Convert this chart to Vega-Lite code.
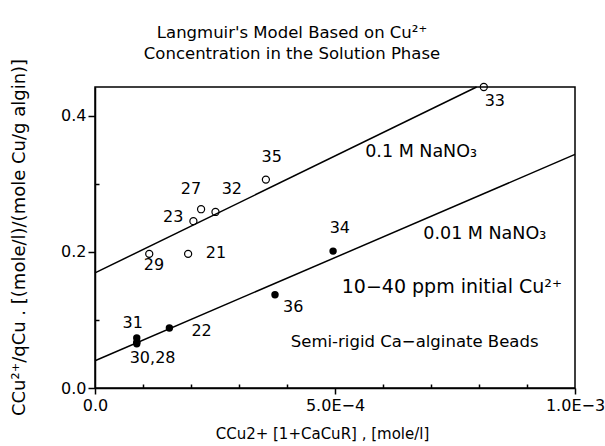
{
  "$schema": "https://vega.github.io/schema/vega-lite/v6.json",
  "width": 480,
  "height": 301,
  "autosize": {"type": "none"},
  "padding": {"left": 95, "top": 87, "right": 30, "bottom": 58},
  "background": "white",
  "config": {
    "view": {"stroke": "black", "strokeWidth": 1.5},
    "font": "DejaVu Sans",
    "text": {"font": "DejaVu Sans", "color": "black"}
  },
  "title": {
    "text": ["Langmuir's Model Based on Cu²⁺", "Concentration in the Solution Phase"],
    "font": "DejaVu Sans",
    "fontSize": 16.5,
    "fontWeight": "normal",
    "color": "black",
    "lineHeight": 21,
    "anchor": "middle",
    "dx": -43,
    "dy": 28,
    "offset": 24
  },
  "datasets": {
    "open": [
      {"run": "29", "x": 0.000113, "y": 0.197},
      {"run": "21", "x": 0.000194, "y": 0.197},
      {"run": "23", "x": 0.000205, "y": 0.245},
      {"run": "27", "x": 0.000221, "y": 0.2625},
      {"run": "32", "x": 0.000251, "y": 0.2585},
      {"run": "35", "x": 0.000356, "y": 0.306},
      {"run": "33", "x": 0.000810, "y": 0.442}
    ],
    "filled": [
      {"run": "31", "x": 0.000087, "y": 0.0735},
      {"run": "30", "x": 0.000087, "y": 0.067},
      {"run": "28", "x": 0.000087, "y": 0.065},
      {"run": "22", "x": 0.000155, "y": 0.088},
      {"run": "36", "x": 0.000375, "y": 0.137},
      {"run": "34", "x": 0.000496, "y": 0.201}
    ],
    "lines": [
      {"series": "0.1 M NaNO3", "x": 0.0, "y": 0.169},
      {"series": "0.1 M NaNO3", "x": 0.000795, "y": 0.442},
      {"series": "0.01 M NaNO3", "x": 0.0, "y": 0.040},
      {"series": "0.01 M NaNO3", "x": 0.001, "y": 0.343}
    ],
    "ptlabels": [
      {"label": "29", "x": 0.000123, "y": 0.180},
      {"label": "21", "x": 0.000252, "y": 0.198},
      {"label": "23", "x": 0.000163, "y": 0.251},
      {"label": "27", "x": 0.000200, "y": 0.292},
      {"label": "32", "x": 0.000285, "y": 0.292},
      {"label": "35", "x": 0.000368, "y": 0.339},
      {"label": "33", "x": 0.000833, "y": 0.421},
      {"label": "34", "x": 0.000510, "y": 0.235},
      {"label": "31", "x": 0.0000785, "y": 0.0955},
      {"label": "30,28", "x": 0.000120, "y": 0.044},
      {"label": "22", "x": 0.000222, "y": 0.084},
      {"label": "36", "x": 0.000413, "y": 0.1185}
    ]
  },
  "layer": [
    {
      "data": {"name": "lines"},
      "mark": {"type": "line", "color": "black", "strokeWidth": 1.5},
      "encoding": {
        "x": {
          "field": "x", "type": "quantitative",
          "scale": {"domain": [0, 0.001], "nice": false, "zero": false},
          "axis": {
            "values": [0, 0.0001, 0.0002, 0.0003, 0.0004, 0.0005, 0.0006, 0.0007, 0.0008, 0.0009, 0.001],
            "labelExpr": "abs(datum.value) < 1e-9 ? '0.0' : abs(datum.value - 0.0005) < 1e-9 ? '5.0E−4' : abs(datum.value - 0.001) < 1e-9 ? '1.0E−3' : ''",
            "title": "CCu2+ [1+CaCuR] , [mole/l]",
            "titleFont": "DejaVu Sans",
            "titleFontSize": 15,
            "titleFontWeight": "normal",
            "titleColor": "black",
            "titleX": 227,
            "titleY": 45,
            "titleBaseline": "middle",
            "labelFont": "DejaVu Sans",
            "labelFontSize": 16,
            "labelColor": "black",
            "labelFlush": false,
            "labelPadding": 3,
            "domainColor": "black",
            "domainWidth": 1.5,
            "tickColor": "black",
            "tickWidth": 1.5,
            "tickSize": {"condition": {"test": "abs(datum.value) < 1e-9 || abs(datum.value - 0.0005) < 1e-9 || abs(datum.value - 0.001) < 1e-9", "value": 6}, "value": -4},
            "grid": false
          }
        },
        "y": {
          "field": "y", "type": "quantitative",
          "scale": {"domain": [0, 0.442], "nice": false, "zero": false},
          "axis": {
            "values": [0, 0.1, 0.2, 0.3, 0.4],
            "labelExpr": "abs(datum.value) < 1e-9 ? '0.0' : abs(datum.value - 0.2) < 1e-9 ? '0.2' : abs(datum.value - 0.4) < 1e-9 ? '0.4' : ''",
            "title": "CCu²⁺/qCu . [(mole/l)/(mole Cu/g algin)]",
            "titleFont": "DejaVu Sans",
            "titleFontSize": 18,
            "titleFontWeight": "normal",
            "titleColor": "black",
            "titleX": -76,
            "titleY": 150,
            "titleBaseline": "middle",
            "titleAngle": -90,
            "labelFont": "DejaVu Sans",
            "labelFontSize": 16,
            "labelColor": "black",
            "labelFlush": false,
            "labelPadding": 2,
            "domainColor": "black",
            "domainWidth": 1.5,
            "tickColor": "black",
            "tickWidth": 1.5,
            "tickSize": {"condition": {"test": "abs(datum.value - 0.1) < 1e-9 || abs(datum.value - 0.3) < 1e-9", "value": -4}, "value": 7},
            "grid": false
          }
        },
        "detail": {"field": "series", "type": "nominal"}
      }
    },
    {
      "data": {"name": "open"},
      "mark": {"type": "point", "shape": "circle", "filled": false, "stroke": "black", "strokeWidth": 1.2, "size": 50, "opacity": 1},
      "encoding": {
        "x": {"field": "x", "type": "quantitative"},
        "y": {"field": "y", "type": "quantitative"}
      }
    },
    {
      "data": {"name": "filled"},
      "mark": {"type": "point", "shape": "circle", "filled": true, "fill": "black", "size": 55, "opacity": 1},
      "encoding": {
        "x": {"field": "x", "type": "quantitative"},
        "y": {"field": "y", "type": "quantitative"}
      }
    },
    {
      "data": {"name": "ptlabels"},
      "mark": {"type": "text", "fontSize": 16, "align": "center", "baseline": "middle", "color": "black"},
      "encoding": {
        "x": {"field": "x", "type": "quantitative"},
        "y": {"field": "y", "type": "quantitative"},
        "text": {"field": "label"}
      }
    },
    {
      "data": {"values": [
        {"text": "0.1 M NaNO₃", "x": 0.000563, "y": 0.347},
        {"text": "0.01 M NaNO₃", "x": 0.000684, "y": 0.226}
      ]},
      "mark": {"type": "text", "fontSize": 17.5, "align": "left", "baseline": "middle", "color": "black"},
      "encoding": {
        "x": {"field": "x", "type": "quantitative"},
        "y": {"field": "y", "type": "quantitative"},
        "text": {"field": "text"}
      }
    },
    {
      "data": {"values": [
        {"text": "10−40 ppm initial Cu²⁺", "x": 0.000514, "y": 0.148}
      ]},
      "mark": {"type": "text", "fontSize": 19, "align": "left", "baseline": "middle", "color": "black"},
      "encoding": {
        "x": {"field": "x", "type": "quantitative"},
        "y": {"field": "y", "type": "quantitative"},
        "text": {"field": "text"}
      }
    },
    {
      "data": {"values": [
        {"text": "Semi-rigid Ca−alginate Beads", "x": 0.000408, "y": 0.067}
      ]},
      "mark": {"type": "text", "fontSize": 16.5, "align": "left", "baseline": "middle", "color": "black"},
      "encoding": {
        "x": {"field": "x", "type": "quantitative"},
        "y": {"field": "y", "type": "quantitative"},
        "text": {"field": "text"}
      }
    }
  ]
}
